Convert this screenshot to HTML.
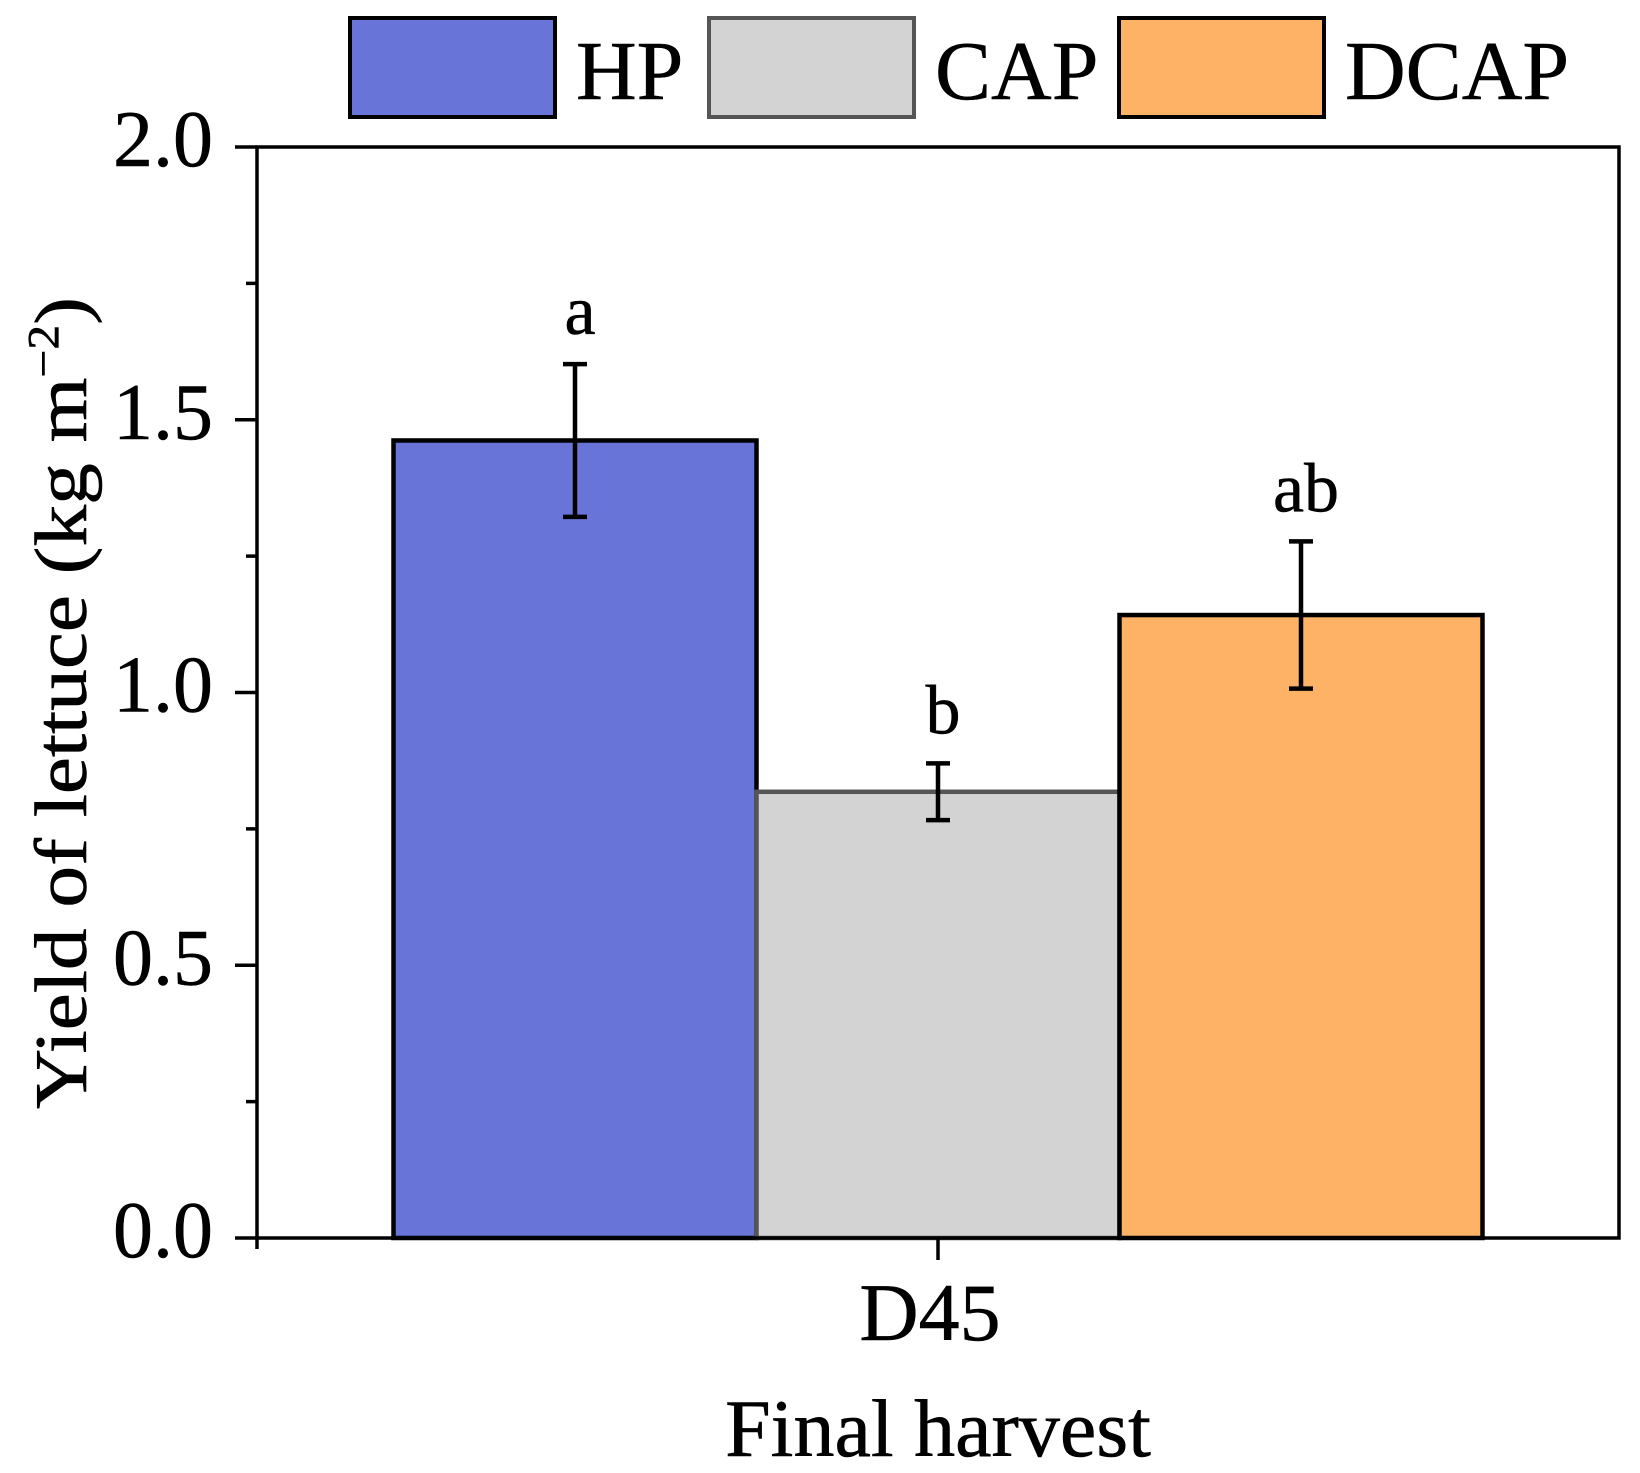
<!DOCTYPE html>
<html><head><meta charset="utf-8"><style>
html,body{margin:0;padding:0;background:#fff;}
svg{display:block;font-family:"Liberation Serif",serif;}
</style></head><body>
<svg width="1640" height="1473" viewBox="0 0 1640 1473">
<g id="legend"></g>
<g id="plot"></g>
<text x="0" y="0" transform="translate(86,703) rotate(-90)" text-anchor="middle" font-size="74" textLength="812" lengthAdjust="spacingAndGlyphs" stroke="#000" stroke-width="0.6">Yield of lettuce (kg m<tspan dy="-28" font-size="44">−2</tspan><tspan dy="28">)</tspan></text>
<text x="938" y="1456" text-anchor="middle" font-size="82" stroke="#000" stroke-width="0.6">Final harvest</text>
<script>
const categories = ["D45"];
const series = ["HP","CAP","DCAP"];
const values = [1.462, 0.818, 1.142];
const errors = [0.14, 0.052, 0.135];
const letters = ["a","b","ab"];
const yTicks = [0, 0.5, 1.0, 1.5, 2.0];
const yTickLabels = ["0.0","0.5","1.0","1.5","2.0"];
const yMinor = [0.25, 0.75, 1.25, 1.75];
const fills = ["#6874d8","#d3d3d3","#fdb265"];
const strokes = ["#000","#555","#000"];

const NS = "http://www.w3.org/2000/svg";
const L=257, R=1619, T=147, B=1238;
const yMax=2.0;
const y = v => B - (v/yMax)*(B-T);
const groupCenter = 938, barW = 363;
const bx = i => groupCenter - barW*series.length/2 + i*barW;
function mk(tag, attrs, parent){const e=document.createElementNS(NS,tag);for(const k in attrs)e.setAttribute(k,attrs[k]);parent.appendChild(e);return e;}
const plot=document.getElementById('plot');
const legend=document.getElementById('legend');

values.forEach((v,i)=>{
  const r=mk('rect',{x:bx(i),y:y(v),width:barW,height:B-y(v),fill:fills[i],stroke:strokes[i],'stroke-width':4.5},plot);
  
  
  const cx=bx(i)+barW/2, hi=y(v+errors[i]), lo=y(v-errors[i]);
  const g=mk('g',{stroke:'#000','stroke-width':4.5},plot);
  
  
  mk('line',{x1:cx,y1:hi,x2:cx,y2:lo},g);
  mk('line',{x1:cx-12,y1:hi,x2:cx+12,y2:hi},g);
  mk('line',{x1:cx-12,y1:lo,x2:cx+12,y2:lo},g);
  const t=mk('text',{x:cx+5,y:hi-30,'text-anchor':'middle','font-size':70,stroke:'#000','stroke-width':0.5},plot);
  t.textContent=letters[i];
  
  
});

const frame=mk('rect',{x:L,y:T,width:R-L,height:B-T,fill:'none',stroke:'#000','stroke-width':3.5},plot);



yTicks.forEach((v,i)=>{
  const l=mk('line',{x1:L-22,y1:y(v),x2:L,y2:y(v),stroke:'#000','stroke-width':3.5},plot);
  
  
  const t=mk('text',{x:213,y:y(v)+19,'text-anchor':'end','font-size':80,stroke:'#000','stroke-width':0.5},plot);
  t.textContent=yTickLabels[i];
  
  
});
yMinor.forEach(v=>{
  const l=mk('line',{x1:L-11,y1:y(v),x2:L,y2:y(v),stroke:'#000','stroke-width':3.5},plot);
  
  
});
const xt=mk('line',{x1:groupCenter,y1:B,x2:groupCenter,y2:B+22,stroke:'#000','stroke-width':3.5},plot);


const xl=mk('line',{x1:L,y1:B,x2:L,y2:B+11,stroke:'#000','stroke-width':3.5},plot);


const xtl=mk('text',{x:groupCenter-8,y:1340,'text-anchor':'middle','font-size':82,stroke:'#000','stroke-width':0.5},plot);
xtl.textContent=categories[0];



const legX=[350,709,1119];
series.forEach((s,i)=>{
  const r=mk('rect',{x:legX[i],y:18,width:205,height:99,fill:fills[i],stroke:i===1?'#555':'#000','stroke-width':4},legend);
  
  
  const t=mk('text',{x:legX[i]+226,y:99,'font-size':84,stroke:'#000','stroke-width':0.5},legend);
  t.textContent=s;
  
  
});
</script>
</svg>
</body></html>
